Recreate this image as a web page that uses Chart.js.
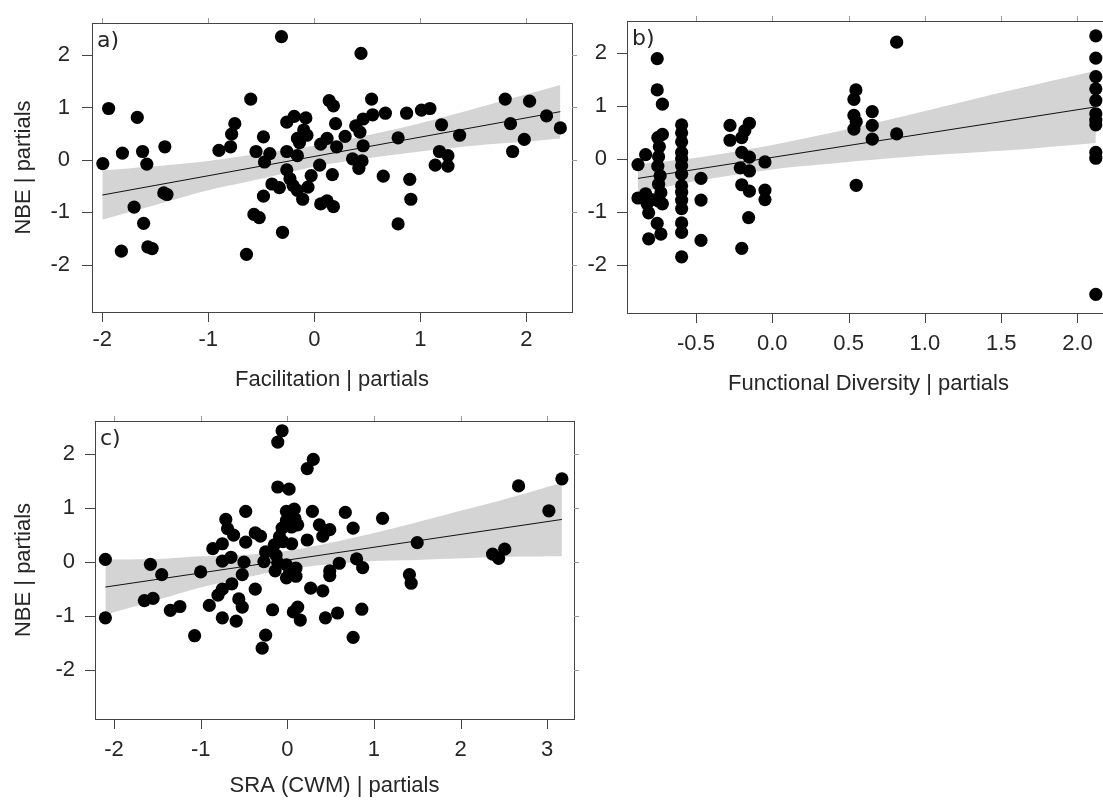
<!DOCTYPE html>
<html>
<head>
<meta charset="utf-8">
<script src="https://cdn.jsdelivr.net/npm/chart.js@4.4.1/dist/chart.umd.min.js"></script>
<style>
  html, body { margin: 0; padding: 0; background: #fff; overflow: hidden; }
  body { width: 1103px; height: 800px; position: relative; }
  canvas { position: absolute; }
  #panelA { left: 0; top: 0; }
  #panelB { left: 540px; top: 0; }
  #panelC { left: 0; top: 400px; }
</style>
</head>
<body>
<canvas id="panelA" width="590" height="400"></canvas>
<canvas id="panelB" width="580" height="400"></canvas>
<canvas id="panelC" width="590" height="410"></canvas>
<script>
// shared y axis
const yTicks = [-2, -1, 0, 1, 2];
const yTitle = 'NBE | partials';

// a) Facilitation
const facX = [-1.995, -1.94, -1.81, -1.67, -1.62, -1.58, -1.41, -1.42, -1.39, -1.70, -1.61, -1.82, -1.57, -1.53,
  -0.90, -0.79, -0.78, -0.75, -0.60, -0.64, -0.57, -0.52, -0.48, -0.48, -0.55, -0.42, -0.47, -0.40, -0.33,
  -0.31, -0.30, -0.26, -0.19, -0.08, -0.26, -0.16, -0.10, -0.07, -0.14, -0.16, -0.26, -0.23, -0.20, -0.16,
  -0.11, -0.06, -0.03, 0.05, 0.06, 0.12, 0.06, 0.12, 0.18, 0.17, 0.14, 0.18, 0.20, 0.21, 0.44, 0.54, 0.55,
  0.46, 0.39, 0.43, 0.29, 0.46, 0.36, 0.45, 0.42, 0.67, 0.79, 0.65, 0.87, 0.90, 0.91, 0.79, 1.01, 1.09,
  1.20, 1.37, 1.18, 1.26, 1.14, 1.26, 1.80, 2.03, 1.85, 2.19, 2.32, 1.98, 1.87];
const facY = [-0.07, 0.98, 0.13, 0.81, 0.16, -0.08, 0.25, -0.63, -0.66, -0.90, -1.21, -1.74, -1.66, -1.69,
  0.18, 0.25, 0.49, 0.69, 1.16, -1.80, -1.04, -1.10, -0.69, 0.44, 0.16, 0.12, -0.04, -0.46, -0.53,
  2.35, -1.38, 0.72, 0.83, 0.80, 0.16, 0.41, 0.57, 0.47, 0.33, 0.08, -0.19, -0.36, -0.49, -0.58,
  -0.75, -0.52, -0.30, -0.10, 0.30, 0.41, -0.84, -0.78, -0.89, -0.28, 1.13, 1.03, 0.69, 0.25, 2.03, 1.16, 0.86,
  0.78, 0.65, 0.53, 0.45, 0.27, 0.02, -0.02, -0.16, 0.89, 0.42, -0.31, 0.89, -0.37, -0.75, -1.22, 0.95, 0.98,
  0.67, 0.47, 0.16, 0.08, -0.10, -0.12, 1.16, 1.12, 0.69, 0.84, 0.61, 0.39, 0.16];
const facTicks = [-2, -1, 0, 1, 2];
const facFitX = [-2.0, 2.32];
const facFitY = [-0.67, 0.92];
const facBandX = [-2.0, -1.5, -1.0, -0.5, 0, 0.5, 1.0, 1.5, 2.0, 2.32];
const facBandHi = [-0.20, -0.12, -0.02, 0.12, 0.27, 0.47, 0.70, 0.97, 1.25, 1.43];
const facBandLo = [-1.14, -0.86, -0.58, -0.36, -0.13, 0.03, 0.16, 0.27, 0.35, 0.41];

// b) Functional Diversity
const fdX = [-0.88, -0.83, -0.88, -0.83, -0.82, -0.81, -0.81, -0.79,
  -0.754, -0.754, -0.72, -0.72, -0.75, -0.74, -0.745, -0.75, -0.735, -0.745, -0.73, -0.745, -0.72, -0.754, -0.73,
  -0.594, -0.594, -0.594, -0.594, -0.594, -0.594, -0.594, -0.594, -0.594, -0.594, -0.594, -0.594, -0.594, -0.594,
  -0.467, -0.467, -0.467, -0.277, -0.277,
  -0.15, -0.18, -0.20, -0.20, -0.15, -0.21, -0.15, -0.20, -0.15, -0.155, -0.20,
  -0.048, -0.048, -0.048,
  0.548, 0.535, 0.535, 0.55, 0.535, 0.55, 0.655, 0.655, 0.655, 0.815, 0.815,
  2.12, 2.12, 2.12, 2.12, 2.12, 2.12, 2.12, 2.12, 2.12, 2.12, 2.12];
const fdY = [-0.10, 0.09, -0.73, -0.65, -0.84, -1.01, -1.50, -0.76,
  1.90, 1.31, 1.04, 0.47, 0.41, 0.24, 0.05, -0.13, -0.31, -0.47, -0.63, -0.79, -0.84, -1.21, -1.41,
  0.65, 0.50, 0.33, 0.13, 0.01, -0.12, -0.28, -0.50, -0.62, -0.77, -0.93, -1.20, -1.38, -1.84,
  -0.36, -0.77, -1.53, 0.64, 0.36,
  0.68, 0.54, 0.41, 0.13, 0.04, -0.16, -0.22, -0.48, -0.60, -1.10, -1.68,
  -0.05, -0.58, -0.76,
  1.31, 1.13, 0.83, 0.71, 0.57, -0.49, 0.90, 0.64, 0.38, 2.21, 0.48,
  2.33, 1.91, 1.56, 1.33, 1.11, 0.86, 0.74, 0.65, 0.13, 0.02, -2.55];
const fdTicks = [-0.5, 0.0, 0.5, 1.0, 1.5, 2.0];
const fdFitX = [-0.88, 2.12];
const fdFitY = [-0.36, 0.99];
const fdBandX = [-0.88, -0.5, 0, 0.5, 1.0, 1.5, 2.12];
const fdBandHi = [-0.09, 0.03, 0.27, 0.57, 0.91, 1.26, 1.67];
const fdBandLo = [-0.63, -0.41, -0.19, -0.05, 0.07, 0.16, 0.31];

// c) SRA (CWM)
const sraX = [-2.10, -2.10, -1.58, -1.45, -1.65, -1.55, -1.35, -1.24, -1.07, -1.00, -0.90, -0.86, -0.75, -0.71,
  -0.69, -0.62, -0.75, -0.65, -0.75, -0.80, -0.64, -0.75, -0.59, -0.56, -0.52, -0.52, -0.50, -0.48, -0.48,
  -0.37, -0.31, -0.37, -0.27, -0.25, -0.17, -0.25, -0.29, -0.15, -0.13, -0.11, -0.14, -0.11, 0.02, -0.11,
  -0.06, -0.09, -0.06, -0.05, -0.01, -0.01, 0.05, 0.08, 0.09, 0.12, 0.05, -0.01, -0.01, 0.03, 0.10, 0.10,
  0.07, 0.12, 0.15, 0.23, 0.30, 0.23, 0.29, 0.37, 0.41, 0.49, 0.27, 0.41, 0.49, 0.49, 0.44, 0.58, 0.60,
  0.67, 0.76, 0.80, 0.87, 0.86, 0.76, 1.10, 1.50, 1.41, 1.43, 2.37, 2.44, 2.51, 2.67, 3.02, 3.17];
const sraY = [0.05, -1.03, -0.04, -0.23, -0.71, -0.67, -0.89, -0.82, -1.36, -0.18, -0.80, 0.25, 0.34, 0.79,
  0.62, 0.50, 0.02, 0.09, -0.50, -0.61, -0.40, -1.03, -1.09, -0.68, -0.83, -0.23, 0.00, 0.37, 0.94,
  0.54, 0.48, -0.50, 0.01, 0.19, -0.88, -1.35, -1.59, 0.32, 0.13, -0.01, -0.16, 1.39, 1.35, 2.22,
  2.43, 0.47, 0.63, 0.38, 0.94, 0.77, 0.34, 0.98, 0.80, 0.69, 0.65, -0.05, -0.29, -0.17, -0.11, -0.26,
  -0.92, -0.83, -1.07, 1.73, 1.90, 0.41, 0.94, 0.69, 0.48, 0.60, -0.48, -0.53, -0.16, -0.25, -1.03, -0.94, -0.02,
  0.92, 0.63, 0.06, -0.10, -0.87, -1.39, 0.81, 0.36, -0.23, -0.39, 0.15, 0.07, 0.24, 1.41, 0.95, 1.54];
const sraTicks = [-2, -1, 0, 1, 2, 3];
const sraFitX = [-2.10, 3.17];
const sraFitY = [-0.46, 0.79];
const sraBandX = [-2.10, -1.5, -1.0, -0.5, 0, 0.5, 1.0, 1.5, 2.0, 2.5, 3.17];
const sraBandHi = [0.05, 0.06, 0.11, 0.13, 0.21, 0.36, 0.54, 0.74, 0.95, 1.16, 1.47];
const sraBandLo = [-0.97, -0.70, -0.47, -0.29, -0.13, -0.04, 0.02, 0.04, 0.07, 0.10, 0.11];

const FONT = "'Liberation Sans', Arial, Helvetica, sans-serif";
const TEXT = '#262626';

function pairs(xs, ys) {
  return xs.map((x, i) => ({ x: x, y: ys[i] }));
}

// box round the plot, ticks on all four sides, panel letter
const framePlugin = {
  id: 'frame',
  afterDatasetsDraw(chart, args, opts) {
    const { ctx, chartArea: a, scales: { x, y } } = chart;
    ctx.save();
    ctx.lineWidth = 1;
    ctx.strokeStyle = '#444';
    ctx.strokeRect(a.left + 0.5, a.top + 0.5, a.right - a.left, a.bottom - a.top);

    ctx.beginPath();
    x.ticks.forEach(t => {
      const px = Math.round(x.getPixelForValue(t.value)) + 0.5;
      ctx.moveTo(px, a.bottom);
      ctx.lineTo(px, a.bottom + 10);
    });
    y.ticks.forEach(t => {
      const py = Math.round(y.getPixelForValue(t.value)) + 0.5;
      ctx.moveTo(a.left, py);
      ctx.lineTo(a.left - 10, py);
    });
    ctx.stroke();

    ctx.strokeStyle = '#9a9a9a';
    ctx.beginPath();
    x.ticks.forEach(t => {
      const px = Math.round(x.getPixelForValue(t.value)) + 0.5;
      ctx.moveTo(px, a.top);
      ctx.lineTo(px, a.top - 5);
    });
    y.ticks.forEach(t => {
      const py = Math.round(y.getPixelForValue(t.value)) + 0.5;
      ctx.moveTo(a.right, py);
      ctx.lineTo(a.right + 5, py);
    });
    ctx.stroke();

    ctx.fillStyle = TEXT;
    ctx.font = "22px 'DejaVu Sans', sans-serif";
    ctx.textBaseline = 'alphabetic';
    ctx.fillText(opts.label, a.left + 5, a.top + 24);
    ctx.restore();
  }
};

function makePanel(id, p) {
  const datasets = [
    {
      type: 'scatter',
      data: pairs(p.xs, p.ys),
      pointRadius: 6.6,
      backgroundColor: '#000',
      borderColor: '#000',
      borderWidth: 0,
      order: 0
    },
    {
      type: 'line',
      data: pairs(p.fitX, p.fitY),
      borderColor: '#111',
      borderWidth: 1,
      pointRadius: 0,
      fill: false,
      order: 1
    },
    {
      type: 'line',
      data: pairs(p.bandX, p.bandLo),
      borderWidth: 0,
      borderColor: 'rgba(0,0,0,0)',
      pointRadius: 0,
      fill: false,
      tension: 0.3,
      order: 3
    },
    {
      type: 'line',
      data: pairs(p.bandX, p.bandHi),
      borderWidth: 0,
      borderColor: 'rgba(0,0,0,0)',
      backgroundColor: '#d4d4d4',
      pointRadius: 0,
      fill: '-1',
      tension: 0.3,
      order: 2
    }
  ];

  return new Chart(document.getElementById(id), {
    type: 'scatter',
    data: { datasets: datasets },
    options: {
      responsive: false,
      animation: false,
      devicePixelRatio: 1,
      layout: { padding: { top: p.padTop, right: p.padRight, left: 0, bottom: 0 } },
      plugins: {
        legend: { display: false },
        tooltip: { enabled: false },
        frame: { label: p.label }
      },
      scales: {
        x: {
          type: 'linear',
          min: p.xMin,
          max: p.xMax,
          afterBuildTicks: (axis) => { axis.ticks = p.xTicks.map(v => ({ value: v })); },
          afterFit: (axis) => { axis.height = p.xAxisHeight; },
          grid: { display: false, drawTicks: true, tickLength: 10 },
          border: { display: false },
          ticks: {
            padding: p.xTickPad,
            maxRotation: 0,
            autoSkip: false,
            color: TEXT,
            font: { family: FONT, size: 22, lineHeight: 1 },
            callback: (v) => p.decimals ? v.toFixed(1) : String(v)
          },
          title: {
            display: true,
            text: p.xTitle,
            color: TEXT,
            font: { family: FONT, size: 22, lineHeight: 1 },
            padding: { top: 0, bottom: p.xTitlePad }
          }
        },
        y: {
          type: 'linear',
          min: -2.9,
          max: 2.61,
          afterBuildTicks: (axis) => { axis.ticks = yTicks.map(v => ({ value: v })); },
          afterFit: (axis) => { axis.width = p.yAxisWidth; },
          grid: { display: false, drawTicks: true, tickLength: 10 },
          border: { display: false },
          ticks: {
            padding: p.yTickPad,
            color: TEXT,
            font: { family: FONT, size: 22, lineHeight: 1 },
            callback: (v) => String(v)
          },
          title: {
            display: !!p.yTitle,
            text: p.yTitle || '',
            color: TEXT,
            font: { family: FONT, size: 22, lineHeight: 1 },
            padding: { top: p.yTitlePad || 0, bottom: 0 }
          }
        }
      }
    },
    plugins: [framePlugin]
  });
}

makePanel('panelA', {
  label: 'a)', xs: facX, ys: facY, fitX: facFitX, fitY: facFitY,
  bandX: facBandX, bandHi: facBandHi, bandLo: facBandLo,
  xTicks: facTicks, xMin: -2.097, xMax: 2.43, decimals: false,
  xTitle: 'Facilitation | partials', yTitle: yTitle,
  padTop: 9, padRight: 18, yAxisWidth: 92, xAxisHeight: 88,
  xTickPad: 7, yTickPad: 12, xTitlePad: 9, yTitlePad: 13
});

makePanel('panelB', {
  label: 'b)', xs: fdX, ys: fdY, fitX: fdFitX, fitY: fdFitY,
  bandX: fdBandX, bandHi: fdBandHi, bandLo: fdBandLo,
  xTicks: fdTicks, xMin: -0.952, xMax: 2.213, decimals: true,
  xTitle: 'Functional Diversity | partials', yTitle: null,
  padTop: 12, padRight: 10, yAxisWidth: 87, xAxisHeight: 87,
  xTickPad: 10, yTickPad: 10, xTitlePad: 5
});

makePanel('panelC', {
  label: 'c)', xs: sraX, ys: sraY, fitX: sraFitX, fitY: sraFitY,
  bandX: sraBandX, bandHi: sraBandHi, bandLo: sraBandLo,
  xTicks: sraTicks, xMin: -2.22, xMax: 3.31, decimals: false,
  xTitle: 'SRA (CWM) | partials', yTitle: yTitle,
  padTop: 18, padRight: 16, yAxisWidth: 95, xAxisHeight: 91,
  xTickPad: 10, yTickPad: 10, xTitlePad: 13, yTitlePad: 13
});
</script>
</body>
</html>
